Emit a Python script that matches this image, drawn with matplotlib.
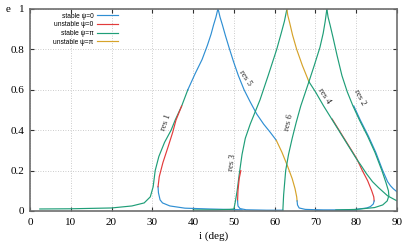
#!/usr/bin/env python3
"""Resonance families e(i), stable/unstable branches for psi=0 and psi=pi"""

import matplotlib
matplotlib.use("Agg")
import matplotlib.pyplot as plt
from matplotlib.lines import Line2D

BLUE = "#2f8fd3"
RED = "#e23b3b"
GREEN = "#1f9e78"
YELLOW = "#d6a32a"

# res 1 (rises from the left to the peak at i ~ 46)
res1_pi_i = [2.4, 10, 20, 25, 28, 29.5, 30.2, 30.7, 31.6, 33.0, 34.6, 35.6, 37.2, 38.7]
res1_pi_e = [0.01, 0.011, 0.015, 0.025, 0.04, 0.07, 0.12, 0.2, 0.27, 0.34, 0.40, 0.45, 0.52, 0.60]
res1_hook_i = [52, 44, 38, 34.3, 32.5, 31.9, 31.5, 31.4]
res1_hook_e = [0.006, 0.01, 0.014, 0.025, 0.04, 0.055, 0.09, 0.12]
res1_unst_i = [31.4, 31.7, 32.6, 33.9, 35.0, 35.8, 37.2]
res1_unst_e = [0.12, 0.17, 0.24, 0.32, 0.39, 0.45, 0.52]
res1_top_i = [38.7, 40.5, 42.2, 43.5, 44.4, 45.0, 45.6, 45.95, 46.1]
res1_top_e = [0.60, 0.68, 0.75, 0.82, 0.875, 0.92, 0.96, 0.99, 1.0]

# res 5 (falls from the peak at i ~ 46)
res5_st_i = [46.1, 46.25, 46.6, 47.2, 47.9, 48.8, 49.9, 51.1, 52.5, 54.0, 55.6, 57.3, 58.9, 60.4]
res5_st_e = [1.0, 0.99, 0.96, 0.92, 0.87, 0.81, 0.74, 0.67, 0.60, 0.54, 0.48, 0.43, 0.39, 0.35]
res5_unst_i = [60.4, 61.8, 63.2, 64.3, 65.0, 65.4, 65.5]
res5_unst_e = [0.35, 0.29, 0.22, 0.16, 0.11, 0.07, 0.05]
res5_hook_i = [65.5, 65.6, 66.0, 67.5, 72, 80]
res5_hook_e = [0.05, 0.03, 0.015, 0.008, 0.005, 0.004]

# res 3 (rises to the peak at i ~ 63)
res3_pi_i = [40, 46, 49, 50.0, 50.3, 50.8, 51.3, 52.0, 52.8, 54.0, 55.2, 56.4, 58.4, 60.5, 61.6, 62.4, 62.8, 63.0]
res3_pi_e = [0.005, 0.006, 0.008, 0.01, 0.04, 0.10, 0.18, 0.28, 0.36, 0.43, 0.49, 0.55, 0.67, 0.80, 0.88, 0.94, 0.98, 1.0]
res3_unst_i = [50.9, 51.0, 51.3, 51.7]
res3_unst_e = [0.05, 0.10, 0.16, 0.20]
res3_hook_i = [50.9, 51.0, 51.5, 53, 58, 62]
res3_hook_e = [0.05, 0.025, 0.012, 0.006, 0.004, 0.004]

# res 4 (falls from the peak at i ~ 63)
res4_unst_i = [63.0, 63.2, 63.7, 64.4, 65.4, 66.8, 68.4]
res4_unst_e = [1.0, 0.97, 0.93, 0.87, 0.80, 0.72, 0.64]
res4_pi_i = [68.4, 70.0, 72.0, 74.0, 76.0, 78.0, 80.0, 81.2, 82.5, 84.0, 85.5, 87.7, 90.0]
res4_pi_e = [0.64, 0.59, 0.52, 0.455, 0.39, 0.325, 0.26, 0.225, 0.185, 0.145, 0.115, 0.075, 0.05]
res4_red_i = [74.1, 76.1, 78.1, 80.1, 81.5, 82.8, 83.8, 84.3, 84.4]
res4_red_e = [0.455, 0.39, 0.325, 0.26, 0.20, 0.15, 0.10, 0.07, 0.05]
res4_hook_i = [84.4, 84.2, 83.5, 82.6, 79.2, 76, 70]
res4_hook_e = [0.05, 0.035, 0.022, 0.015, 0.006, 0.004, 0.003]

# res 6 (rises to the peak at i ~ 73)
res6_i = [62.0, 62.2, 62.7, 63.4, 64.3, 65.3, 66.4, 67.4, 68.4, 69.7, 71.1, 71.9, 72.4, 72.8]
res6_e = [0.0, 0.08, 0.20, 0.28, 0.36, 0.44, 0.52, 0.58, 0.64, 0.72, 0.81, 0.88, 0.94, 1.0]

# res 2 (falls from the peak at i ~ 73)
res2_pi_i = [72.8, 73.1, 73.6, 74.3, 75.3, 76.5, 77.8, 79.2, 80.8, 82.8, 84.6, 86.3, 87.3, 87.9, 88.0, 87.6, 86.5, 84.5, 80, 75]
res2_pi_e = [1.0, 0.96, 0.92, 0.86, 0.77, 0.67, 0.59, 0.52, 0.45, 0.37, 0.29, 0.20, 0.14, 0.10, 0.075, 0.05, 0.03, 0.017, 0.008, 0.005]
res2_st_i = [79.4, 81.0, 83.0, 84.8, 86.5, 87.7, 88.4, 89.1, 90.0]
res2_st_e = [0.52, 0.45, 0.37, 0.29, 0.20, 0.145, 0.125, 0.11, 0.095]

labels = ["res 1", "res 5", "res 3", "res 6", "res 4", "res 2"]
label_i = [33.3, 52.7, 49.6, 63.6, 72.2, 80.9]
label_e = [0.44, 0.66, 0.24, 0.44, 0.57, 0.56]
label_rot = [70, -57, 82, 77, -57, -62]

legend_names = ["stable ψ=0", "unstable ψ=0", "stable ψ=π", "unstable ψ=π"]
legend_colors = [BLUE, RED, GREEN, YELLOW]

xticks = [0, 10, 20, 30, 40, 50, 60, 70, 80, 90]
yticks = [0, 0.2, 0.4, 0.6, 0.8, 1]
ytick_labels = ["0", "0.2", "0.4", "0.6", "0.8", "1"]

SERIF = "Liberation Serif"

fig = plt.figure(figsize=(4.07, 2.44), dpi=100)
ax = fig.add_axes([30 / 407, 1 - 211 / 244, 367 / 407, 202 / 244])

lw = 0.85
segments = [
    (res1_hook_i, res1_hook_e, BLUE),
    (res1_pi_i, res1_pi_e, GREEN),
    (res1_unst_i, res1_unst_e, RED),
    (res1_top_i, res1_top_e, BLUE),
    (res5_st_i, res5_st_e, BLUE),
    (res5_unst_i, res5_unst_e, YELLOW),
    (res5_hook_i, res5_hook_e, BLUE),
    (res3_pi_i, res3_pi_e, GREEN),
    (res3_unst_i, res3_unst_e, RED),
    (res3_hook_i, res3_hook_e, BLUE),
    (res4_red_i, res4_red_e, RED),
    (res4_hook_i, res4_hook_e, BLUE),
    (res4_unst_i, res4_unst_e, YELLOW),
    (res4_pi_i, res4_pi_e, GREEN),
    (res2_st_i, res2_st_e, BLUE),
    (res2_pi_i, res2_pi_e, GREEN),
    (res6_i, res6_e, GREEN),
]
for xs, ys, c in segments:
    ax.plot(xs, ys, color=c, lw=lw, solid_joinstyle="round")

for txt, xi, ye, rot in zip(labels, label_i, label_e, label_rot):
    ax.text(xi, ye, txt, rotation=rot, ha="center", va="center",
            fontsize=6.3, family=SERIF, color="#222222")

ax.set_xlim(0, 90)
ax.set_ylim(0, 1)
ax.set_xticks(xticks)
ax.set_yticks(yticks)
ax.set_yticklabels(ytick_labels)
ax.tick_params(direction="in", length=3, width=0.8, top=True, right=True,
               labelsize=8, pad=4, colors="#333333", labelcolor="black")
ax.tick_params(axis="x", pad=5)
for lab in ax.get_xticklabels() + ax.get_yticklabels():
    lab.set_family(SERIF)
ax.grid(True, ls=(0, (1, 2)), color="#bbbbbb", lw=0.6)
for sp in ax.spines.values():
    sp.set_color("#6e6e6e")
    sp.set_linewidth(1.2)

ax.set_xlabel("i (deg)", family=SERIF, fontsize=8, labelpad=3)
fig.text(8 / 407, 1 - 10 / 244, "e", family=SERIF, fontsize=8, ha="center", va="center")

handles = [Line2D([], [], color=c, lw=lw) for c in legend_colors]
leg = ax.legend(handles, legend_names, loc="upper left", bbox_to_anchor=(0.05, 1.005),
                frameon=False, markerfirst=False, fontsize=4.8, handlelength=3.2,
                handletextpad=0.5, labelspacing=0.25, borderpad=0.2)
for t in leg.get_texts():
    t.set_ha("right")
    t.set_family("Liberation Sans")
leg._legend_box.align = "right"

fig.savefig("out.png", dpi=100)
